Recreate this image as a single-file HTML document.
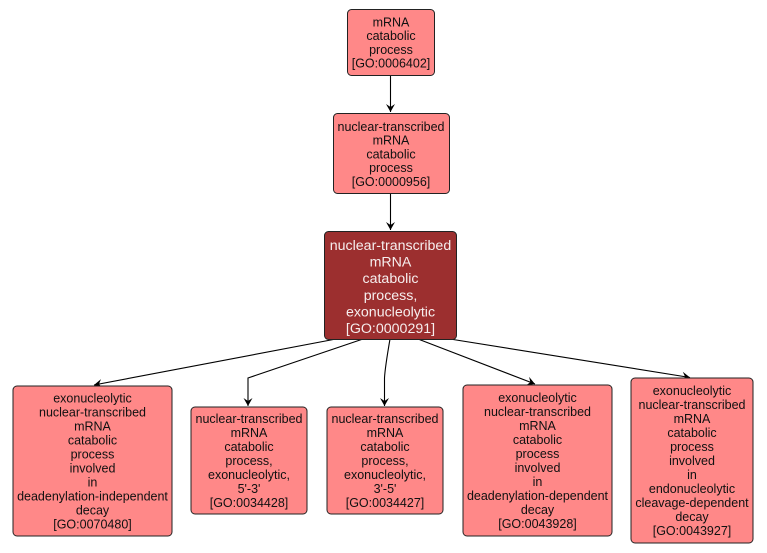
<!DOCTYPE html>
<html>
<head>
<meta charset="utf-8">
<style>
html,body{margin:0;padding:0;background:#fff;}
svg{display:block;}
text{font-family:"Liberation Sans",Arial,sans-serif;text-anchor:middle;}
.s{font-size:12.5px;fill:#111;}
.b{font-size:14.2px;fill:#f6eeee;}
.box{fill:#ff8888;stroke:#222;stroke-width:1;}
.dark{fill:#9c2f2f;stroke:#222;stroke-width:1;}
.e{fill:none;stroke:#000;stroke-width:1.1;}
</style>
</head>
<body>
<svg width="767" height="553" viewBox="0 0 767 553" xmlns="http://www.w3.org/2000/svg">
<defs>
<marker id="a" markerUnits="userSpaceOnUse" viewBox="-9 -5 10 10" refX="0" refY="0" markerWidth="10" markerHeight="10" orient="auto">
<path d="M0,0 L-8,-4.5 L-5,0 L-8,4.5 Z" fill="#000"/>
</marker>
</defs>

<!-- edges -->
<path class="e" d="M390.5,75 L390.5,112" marker-end="url(#a)"/>
<path class="e" d="M390.5,193 L390.5,230" marker-end="url(#a)"/>
<path class="e" d="M336,339 L94,385" marker-end="url(#a)"/>
<path class="e" d="M363,339 L248,378 L248,406" marker-end="url(#a)"/>
<path class="e" d="M390,339 Q385,368 384.5,378 L384.5,406" marker-end="url(#a)"/>
<path class="e" d="M418,339 L535,384" marker-end="url(#a)"/>
<path class="e" d="M450,339 L690,377.5" marker-end="url(#a)"/>

<!-- box 1 -->
<rect class="box" x="347.5" y="9.5" width="87" height="66" rx="4"/>
<text class="s" x="391" y="26.5">mRNA</text>
<text class="s" x="391" y="40.2">catabolic</text>
<text class="s" x="391" y="53.9">process</text>
<text class="s" x="391" y="67.6">[GO:0006402]</text>

<!-- box 2 -->
<rect class="box" x="333.5" y="113.5" width="116" height="80" rx="4"/>
<text class="s" x="391" y="131">nuclear-transcribed</text>
<text class="s" x="391" y="144.7">mRNA</text>
<text class="s" x="391" y="158.4">catabolic</text>
<text class="s" x="391" y="172.1">process</text>
<text class="s" x="391" y="185.8">[GO:0000956]</text>

<!-- box 3 -->
<rect class="dark" x="324.5" y="231.5" width="132" height="108" rx="4"/>
<text class="b" x="390.5" y="250">nuclear-transcribed</text>
<text class="b" x="390.5" y="266.6">mRNA</text>
<text class="b" x="390.5" y="283.2">catabolic</text>
<text class="b" x="390.5" y="299.8">process,</text>
<text class="b" x="390.5" y="316.4">exonucleolytic</text>
<text class="b" x="390.5" y="333">[GO:0000291]</text>

<!-- box 4 -->
<rect class="box" x="13" y="386" width="159" height="150" rx="4"/>
<text class="s" x="92.5" y="402.5">exonucleolytic</text>
<text class="s" x="92.5" y="416.5">nuclear-transcribed</text>
<text class="s" x="92.5" y="430.5">mRNA</text>
<text class="s" x="92.5" y="444.5">catabolic</text>
<text class="s" x="92.5" y="458.5">process</text>
<text class="s" x="92.5" y="472.5">involved</text>
<text class="s" x="92.5" y="486.5">in</text>
<text class="s" x="92.5" y="500.5">deadenylation-independent</text>
<text class="s" x="92.5" y="514.5">decay</text>
<text class="s" x="92.5" y="528.5">[GO:0070480]</text>

<!-- box 5 -->
<rect class="box" x="191" y="407" width="116" height="107" rx="4"/>
<text class="s" x="249" y="423">nuclear-transcribed</text>
<text class="s" x="249" y="437">mRNA</text>
<text class="s" x="249" y="451">catabolic</text>
<text class="s" x="249" y="465">process,</text>
<text class="s" x="249" y="479">exonucleolytic,</text>
<text class="s" x="249" y="493">5'-3'</text>
<text class="s" x="249" y="507">[GO:0034428]</text>

<!-- box 6 -->
<rect class="box" x="327" y="407" width="116" height="107" rx="4"/>
<text class="s" x="385" y="423">nuclear-transcribed</text>
<text class="s" x="385" y="437">mRNA</text>
<text class="s" x="385" y="451">catabolic</text>
<text class="s" x="385" y="465">process,</text>
<text class="s" x="385" y="479">exonucleolytic,</text>
<text class="s" x="385" y="493">3'-5'</text>
<text class="s" x="385" y="507">[GO:0034427]</text>

<!-- box 7 -->
<rect class="box" x="463" y="385" width="149" height="151" rx="4"/>
<text class="s" x="537.5" y="402">exonucleolytic</text>
<text class="s" x="537.5" y="416">nuclear-transcribed</text>
<text class="s" x="537.5" y="430">mRNA</text>
<text class="s" x="537.5" y="444">catabolic</text>
<text class="s" x="537.5" y="458">process</text>
<text class="s" x="537.5" y="472">involved</text>
<text class="s" x="537.5" y="486">in</text>
<text class="s" x="537.5" y="500">deadenylation-dependent</text>
<text class="s" x="537.5" y="514">decay</text>
<text class="s" x="537.5" y="528">[GO:0043928]</text>

<!-- box 8 -->
<rect class="box" x="631" y="378" width="122" height="165" rx="4"/>
<text class="s" x="692" y="395">exonucleolytic</text>
<text class="s" x="692" y="409">nuclear-transcribed</text>
<text class="s" x="692" y="423">mRNA</text>
<text class="s" x="692" y="437">catabolic</text>
<text class="s" x="692" y="451">process</text>
<text class="s" x="692" y="465">involved</text>
<text class="s" x="692" y="479">in</text>
<text class="s" x="692" y="493">endonucleolytic</text>
<text class="s" x="692" y="507">cleavage-dependent</text>
<text class="s" x="692" y="521">decay</text>
<text class="s" x="692" y="535">[GO:0043927]</text>
</svg>
</body>
</html>
